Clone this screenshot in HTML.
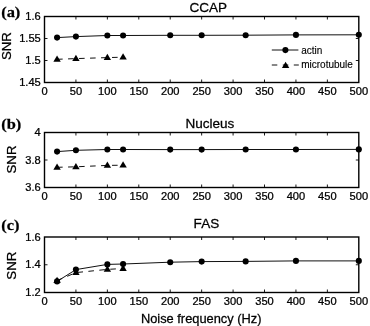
<!DOCTYPE html><html><head><meta charset="utf-8"><style>html,body{margin:0;padding:0;background:#fff;width:370px;height:326px;overflow:hidden}svg{display:block;filter:grayscale(1)}text{font-family:"Liberation Sans",sans-serif;fill:#000;stroke:#000;stroke-width:0.25px}</style></head><body>
<svg width="370" height="326" viewBox="0 0 370 326">
<rect width="370" height="326" fill="#fff"/>
<rect x="44.5" y="16.5" width="314.3" height="66.0" fill="none" stroke="#000" stroke-width="1.4"/>
<path d="M75.93 82.5V79.5M75.93 16.5V19.5M107.36 82.5V79.5M107.36 16.5V19.5M138.79 82.5V79.5M138.79 16.5V19.5M170.22 82.5V79.5M170.22 16.5V19.5M201.65 82.5V79.5M201.65 16.5V19.5M233.08 82.5V79.5M233.08 16.5V19.5M264.51 82.5V79.5M264.51 16.5V19.5M295.94 82.5V79.5M295.94 16.5V19.5M327.37 82.5V79.5M327.37 16.5V19.5M44.5 60.50H47.5M358.8 60.50H355.8M44.5 38.50H47.5M358.8 38.50H355.8" stroke="#000" stroke-width="0.9" fill="none"/>
<text x="0" y="0" transform="translate(44.50 95.3) scale(1.1 1)" font-size="10.1" text-anchor="middle">0</text>
<text x="0" y="0" transform="translate(75.93 95.3) scale(1.1 1)" font-size="10.1" text-anchor="middle">50</text>
<text x="0" y="0" transform="translate(107.36 95.3) scale(1.1 1)" font-size="10.1" text-anchor="middle">100</text>
<text x="0" y="0" transform="translate(138.79 95.3) scale(1.1 1)" font-size="10.1" text-anchor="middle">150</text>
<text x="0" y="0" transform="translate(170.22 95.3) scale(1.1 1)" font-size="10.1" text-anchor="middle">200</text>
<text x="0" y="0" transform="translate(201.65 95.3) scale(1.1 1)" font-size="10.1" text-anchor="middle">250</text>
<text x="0" y="0" transform="translate(233.08 95.3) scale(1.1 1)" font-size="10.1" text-anchor="middle">300</text>
<text x="0" y="0" transform="translate(264.51 95.3) scale(1.1 1)" font-size="10.1" text-anchor="middle">350</text>
<text x="0" y="0" transform="translate(295.94 95.3) scale(1.1 1)" font-size="10.1" text-anchor="middle">400</text>
<text x="0" y="0" transform="translate(327.37 95.3) scale(1.1 1)" font-size="10.1" text-anchor="middle">450</text>
<text x="0" y="0" transform="translate(358.80 95.3) scale(1.1 1)" font-size="10.1" text-anchor="middle">500</text>
<text x="0" y="0" transform="translate(40.8 86.20) scale(1.1 1)" font-size="10.1" text-anchor="end">1.45</text>
<text x="0" y="0" transform="translate(40.8 64.20) scale(1.1 1)" font-size="10.1" text-anchor="end">1.5</text>
<text x="0" y="0" transform="translate(40.8 42.20) scale(1.1 1)" font-size="10.1" text-anchor="end">1.55</text>
<text x="0" y="0" transform="translate(40.8 20.20) scale(1.1 1)" font-size="10.1" text-anchor="end">1.6</text>
<text x="0" y="0" transform="translate(208.2 11.8) scale(1.06 1)" font-size="12.8" text-anchor="middle">CCAP</text>
<text x="0" y="0" transform="translate(11.3 46.1) rotate(-90) scale(1.07 1)" font-size="12.4" text-anchor="middle">SNR</text>
<text x="0" y="0" transform="translate(1.2 16.9) scale(1.08 1)" font-size="15.2" font-weight="bold" style="font-family:'Liberation Serif',serif">(a)</text>
<polyline points="57.07,37.60 75.93,36.60 107.36,35.50 123.08,35.50 170.22,35.30 201.65,35.30 245.65,35.20 295.94,34.90 358.80,34.80" fill="none" stroke="#111" stroke-width="1"/>
<polyline points="57.07,59.30 75.93,58.60 107.36,57.60 123.08,57.20" fill="none" stroke="#111" stroke-width="1" stroke-dasharray="5.6 5.4"/>
<g fill="#000"><circle cx="57.07" cy="37.60" r="3.05"/><circle cx="75.93" cy="36.60" r="3.05"/><circle cx="107.36" cy="35.50" r="3.05"/><circle cx="123.08" cy="35.50" r="3.05"/><circle cx="170.22" cy="35.30" r="3.05"/><circle cx="201.65" cy="35.30" r="3.05"/><circle cx="245.65" cy="35.20" r="3.05"/><circle cx="295.94" cy="34.90" r="3.05"/><circle cx="358.80" cy="34.80" r="3.05"/></g>
<g fill="#000"><path d="M57.07 55.40L60.77 61.70L53.37 61.70Z"/><path d="M75.93 54.70L79.63 61.00L72.23 61.00Z"/><path d="M107.36 53.70L111.06 60.00L103.66 60.00Z"/><path d="M123.08 53.30L126.78 59.60L119.38 59.60Z"/></g>
<rect x="44.5" y="132.5" width="314.3" height="55.0" fill="none" stroke="#000" stroke-width="1.4"/>
<path d="M75.93 187.5V184.5M75.93 132.5V135.5M107.36 187.5V184.5M107.36 132.5V135.5M138.79 187.5V184.5M138.79 132.5V135.5M170.22 187.5V184.5M170.22 132.5V135.5M201.65 187.5V184.5M201.65 132.5V135.5M233.08 187.5V184.5M233.08 132.5V135.5M264.51 187.5V184.5M264.51 132.5V135.5M295.94 187.5V184.5M295.94 132.5V135.5M327.37 187.5V184.5M327.37 132.5V135.5M44.5 160.00H47.5M358.8 160.00H355.8" stroke="#000" stroke-width="0.9" fill="none"/>
<text x="0" y="0" transform="translate(44.50 200.3) scale(1.1 1)" font-size="10.1" text-anchor="middle">0</text>
<text x="0" y="0" transform="translate(75.93 200.3) scale(1.1 1)" font-size="10.1" text-anchor="middle">50</text>
<text x="0" y="0" transform="translate(107.36 200.3) scale(1.1 1)" font-size="10.1" text-anchor="middle">100</text>
<text x="0" y="0" transform="translate(138.79 200.3) scale(1.1 1)" font-size="10.1" text-anchor="middle">150</text>
<text x="0" y="0" transform="translate(170.22 200.3) scale(1.1 1)" font-size="10.1" text-anchor="middle">200</text>
<text x="0" y="0" transform="translate(201.65 200.3) scale(1.1 1)" font-size="10.1" text-anchor="middle">250</text>
<text x="0" y="0" transform="translate(233.08 200.3) scale(1.1 1)" font-size="10.1" text-anchor="middle">300</text>
<text x="0" y="0" transform="translate(264.51 200.3) scale(1.1 1)" font-size="10.1" text-anchor="middle">350</text>
<text x="0" y="0" transform="translate(295.94 200.3) scale(1.1 1)" font-size="10.1" text-anchor="middle">400</text>
<text x="0" y="0" transform="translate(327.37 200.3) scale(1.1 1)" font-size="10.1" text-anchor="middle">450</text>
<text x="0" y="0" transform="translate(358.80 200.3) scale(1.1 1)" font-size="10.1" text-anchor="middle">500</text>
<text x="0" y="0" transform="translate(40.8 191.20) scale(1.1 1)" font-size="10.1" text-anchor="end">3.6</text>
<text x="0" y="0" transform="translate(40.8 163.70) scale(1.1 1)" font-size="10.1" text-anchor="end">3.8</text>
<text x="0" y="0" transform="translate(40.8 136.20) scale(1.1 1)" font-size="10.1" text-anchor="end">4</text>
<text x="0" y="0" transform="translate(209.9 127.6) scale(1.06 1)" font-size="12.8" text-anchor="middle">Nucleus</text>
<text x="0" y="0" transform="translate(15.8 159.5) rotate(-90) scale(1.07 1)" font-size="12.4" text-anchor="middle">SNR</text>
<text x="0" y="0" transform="translate(1.2 128.5) scale(1.08 1)" font-size="15.2" font-weight="bold" style="font-family:'Liberation Serif',serif">(b)</text>
<polyline points="57.07,151.60 75.93,150.30 107.36,149.50 123.08,149.50 170.22,149.60 201.65,149.60 245.65,149.50 295.94,149.50 358.80,149.40" fill="none" stroke="#111" stroke-width="1"/>
<polyline points="57.07,167.30 75.93,166.80 107.36,165.40 123.08,165.20" fill="none" stroke="#111" stroke-width="1" stroke-dasharray="5.6 5.4"/>
<g fill="#000"><circle cx="57.07" cy="151.60" r="3.05"/><circle cx="75.93" cy="150.30" r="3.05"/><circle cx="107.36" cy="149.50" r="3.05"/><circle cx="123.08" cy="149.50" r="3.05"/><circle cx="170.22" cy="149.60" r="3.05"/><circle cx="201.65" cy="149.60" r="3.05"/><circle cx="245.65" cy="149.50" r="3.05"/><circle cx="295.94" cy="149.50" r="3.05"/><circle cx="358.80" cy="149.40" r="3.05"/></g>
<g fill="#000"><path d="M57.07 163.40L60.77 169.70L53.37 169.70Z"/><path d="M75.93 162.90L79.63 169.20L72.23 169.20Z"/><path d="M107.36 161.50L111.06 167.80L103.66 167.80Z"/><path d="M123.08 161.30L126.78 167.60L119.38 167.60Z"/></g>
<rect x="44.5" y="237.0" width="314.3" height="55.5" fill="none" stroke="#000" stroke-width="1.4"/>
<path d="M75.93 292.5V289.5M75.93 237.0V240.0M107.36 292.5V289.5M107.36 237.0V240.0M138.79 292.5V289.5M138.79 237.0V240.0M170.22 292.5V289.5M170.22 237.0V240.0M201.65 292.5V289.5M201.65 237.0V240.0M233.08 292.5V289.5M233.08 237.0V240.0M264.51 292.5V289.5M264.51 237.0V240.0M295.94 292.5V289.5M295.94 237.0V240.0M327.37 292.5V289.5M327.37 237.0V240.0M44.5 264.75H47.5M358.8 264.75H355.8" stroke="#000" stroke-width="0.9" fill="none"/>
<text x="0" y="0" transform="translate(44.50 305.3) scale(1.1 1)" font-size="10.1" text-anchor="middle">0</text>
<text x="0" y="0" transform="translate(75.93 305.3) scale(1.1 1)" font-size="10.1" text-anchor="middle">50</text>
<text x="0" y="0" transform="translate(107.36 305.3) scale(1.1 1)" font-size="10.1" text-anchor="middle">100</text>
<text x="0" y="0" transform="translate(138.79 305.3) scale(1.1 1)" font-size="10.1" text-anchor="middle">150</text>
<text x="0" y="0" transform="translate(170.22 305.3) scale(1.1 1)" font-size="10.1" text-anchor="middle">200</text>
<text x="0" y="0" transform="translate(201.65 305.3) scale(1.1 1)" font-size="10.1" text-anchor="middle">250</text>
<text x="0" y="0" transform="translate(233.08 305.3) scale(1.1 1)" font-size="10.1" text-anchor="middle">300</text>
<text x="0" y="0" transform="translate(264.51 305.3) scale(1.1 1)" font-size="10.1" text-anchor="middle">350</text>
<text x="0" y="0" transform="translate(295.94 305.3) scale(1.1 1)" font-size="10.1" text-anchor="middle">400</text>
<text x="0" y="0" transform="translate(327.37 305.3) scale(1.1 1)" font-size="10.1" text-anchor="middle">450</text>
<text x="0" y="0" transform="translate(358.80 305.3) scale(1.1 1)" font-size="10.1" text-anchor="middle">500</text>
<text x="0" y="0" transform="translate(40.8 296.20) scale(1.1 1)" font-size="10.1" text-anchor="end">1.2</text>
<text x="0" y="0" transform="translate(40.8 268.45) scale(1.1 1)" font-size="10.1" text-anchor="end">1.4</text>
<text x="0" y="0" transform="translate(40.8 240.70) scale(1.1 1)" font-size="10.1" text-anchor="end">1.6</text>
<text x="0" y="0" transform="translate(206.4 228.0) scale(1.06 1)" font-size="12.8" text-anchor="middle">FAS</text>
<text x="0" y="0" transform="translate(15.5 265.7) rotate(-90) scale(1.07 1)" font-size="12.4" text-anchor="middle">SNR</text>
<text x="0" y="0" transform="translate(1.2 230.4) scale(1.08 1)" font-size="15.2" font-weight="bold" style="font-family:'Liberation Serif',serif">(c)</text>
<polyline points="57.07,281.40 75.93,269.60 107.36,264.40 123.08,264.00 170.22,262.20 201.65,261.60 245.65,261.40 295.94,260.90 358.80,260.90" fill="none" stroke="#111" stroke-width="1"/>
<polyline points="57.07,280.60 75.93,272.60 107.36,269.40 123.08,268.50" fill="none" stroke="#111" stroke-width="1" stroke-dasharray="5.6 5.4"/>
<g fill="#000"><circle cx="57.07" cy="281.40" r="3.05"/><circle cx="75.93" cy="269.60" r="3.05"/><circle cx="107.36" cy="264.40" r="3.05"/><circle cx="123.08" cy="264.00" r="3.05"/><circle cx="170.22" cy="262.20" r="3.05"/><circle cx="201.65" cy="261.60" r="3.05"/><circle cx="245.65" cy="261.40" r="3.05"/><circle cx="295.94" cy="260.90" r="3.05"/><circle cx="358.80" cy="260.90" r="3.05"/></g>
<g fill="#000"><path d="M57.07 276.70L60.77 283.00L53.37 283.00Z"/><path d="M75.93 268.70L79.63 275.00L72.23 275.00Z"/><path d="M107.36 265.50L111.06 271.80L103.66 271.80Z"/><path d="M123.08 264.60L126.78 270.90L119.38 270.90Z"/></g>
<path d="M271.8 50H298.4" stroke="#111" stroke-width="1"/>
<circle cx="285.40" cy="50.10" r="3.05" fill="#000"/>
<path d="M271.8 65H298.8" stroke="#111" stroke-width="1" stroke-dasharray="5.5 5.5"/>
<path d="M285.60 61.70L289.30 68.00L281.90 68.00Z" fill="#000"/>
<text x="301.2" y="53.9" font-size="10" style="stroke-width:0.12px">actin</text>
<text x="301.2" y="68.1" font-size="10" style="stroke-width:0.12px">microtubule</text>
<text x="0" y="0" transform="translate(201.2 323.2) scale(1.02 1)" font-size="12.6" text-anchor="middle">Noise frequency (Hz)</text>
</svg></body></html>
